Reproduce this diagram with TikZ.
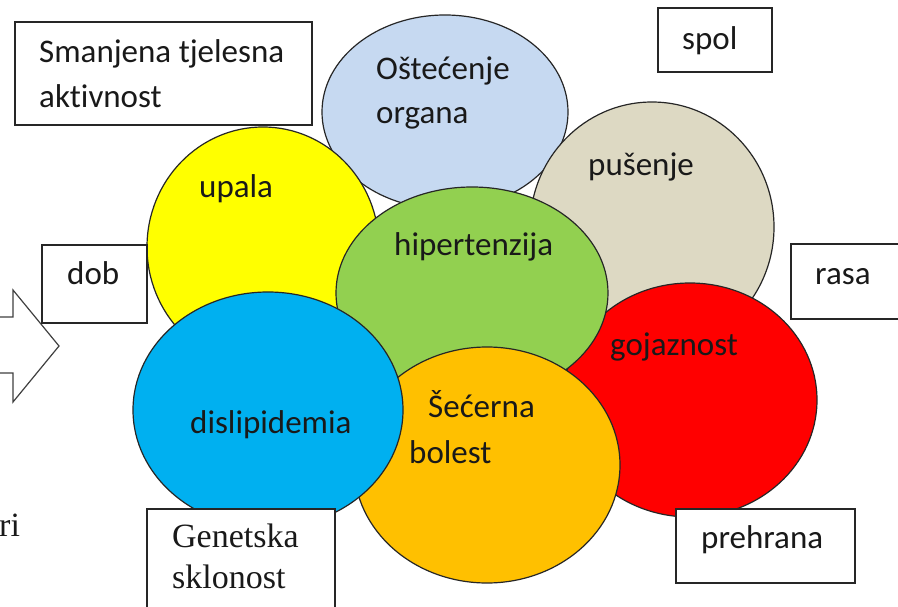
\documentclass[tikz,border=0pt]{standalone}
\usepackage{fontspec}
\setmainfont{Carlito}[Ligatures=NoCommon]
\newfontfamily\genfont{Liberation Serif}
\usetikzlibrary{shapes.geometric}

\definecolor{plava}{HTML}{C6D9F1}
\definecolor{bez}{HTML}{DDD9C3}
\definecolor{zuta}{HTML}{FFFF00}
\definecolor{crvena}{HTML}{FF0000}
\definecolor{zelena}{HTML}{92D050}
\definecolor{narancasta}{HTML}{FFC000}
\definecolor{cijan}{HTML}{00B0F0}

\begin{document}
\begin{tikzpicture}[x=1pt, y=-1pt, font=\fontsize{33}{40}\selectfont,
					krug/.style = {draw=black!85, ellipse, line width=1.2pt, inner sep=0pt, outer sep=0pt},
					kutija/.style = {draw=black!85, fill=white, line width=1.6pt, anchor=north west, inner sep=0pt, outer sep=0pt},
					tekst/.style = {anchor=base west, inner sep=0pt, text=black!90},
					serif/.style = {tekst, font=\genfont\fontsize{34}{40}\selectfont}]
					
					\path[use as bounding box, fill=white] (0,0) rectangle (898,607);
					\clip (0,0) rectangle (898,607);
					
					\draw[fill=white, line width=1.2pt, draw=black!75] (-20,317) -- (13,317) -- (13,290) -- (59,346) -- (13,402) -- (13,373) -- (-20,373) -- cycle;
					
					\node[krug, fill=plava, minimum width=246pt, minimum height=194pt] (organ) at (445,112) {};
					\node[krug, fill=bez, minimum width=244pt, minimum height=250pt] (pusenje) at (652,227) {};
					\node[krug, fill=zuta, minimum width=232pt, minimum height=240pt] (upala) at (263,247) {};
					\node[krug, fill=crvena, minimum width=254pt, minimum height=234pt] (gojaznost) at (690,400) {};
					\node[krug, fill=zelena, minimum width=272pt, minimum height=212pt] (hipertenzija) at (472,293) {};
					\node[krug, fill=narancasta, minimum width=266pt, minimum height=236pt] (secer) at (487,465) {};
					\node[krug, fill=cijan, minimum width=270pt, minimum height=236pt] (dislipidemia) at (268,410) {};
					
					\node[kutija, minimum width=297pt, minimum height=103pt] (smanjena) at (15,22) {};
					\node[kutija, minimum width=114pt, minimum height=64pt] (spol) at (658,8) {};
					\node[kutija, minimum width=105pt, minimum height=78pt] (dob) at (42,245) {};
					\node[kutija, minimum width=120pt, minimum height=75pt] (rasa) at (791,244) {};
					\node[kutija, minimum width=179pt, minimum height=74pt] (prehrana) at (676,509) {};
					\node[kutija, minimum width=188pt, minimum height=110pt] (genetska) at (147,509) {};
					
					\node[tekst] (smanjenaT1) at (39,63) {Smanjena tjelesna};
					\node[tekst] (smanjenaT2) at (39,108) {aktivnost};
					\node[tekst] (spolT) at (682,50) {spol};
					\node[tekst] (organT1) at (376,80) {Oštećenje};
					\node[tekst] (organT2) at (376,124) {organa};
					\node[tekst] (pusenjeT) at (588,176) {pušenje};
					\node[tekst] (upalaT) at (199,198) {upala};
					\node[tekst] (hipertenzijaT) at (394,255) {hipertenzija};
					\node[tekst] (dobT) at (67,284) {dob};
					\node[tekst] (rasaT) at (815,284) {rasa};
					\node[tekst] (gojaznostT) at (610,355) {gojaznost};
					\node[tekst] (dislipidemiaT) at (190,433) {dislipidemia};
					\node[tekst] (secerT1) at (428,417) {Šećerna};
					\node[tekst] (secerT2) at (409,463) {bolest};
					\node[tekst] (prehranaT) at (701,548) {prehrana};
					\node[serif] (genetskaT1) at (172,547) {Genetska};
					\node[serif] (genetskaT2) at (172,588) {sklonost};
					\node[serif] (riT) at (-1,536) {ri};
				\end{tikzpicture}
\end{document}
